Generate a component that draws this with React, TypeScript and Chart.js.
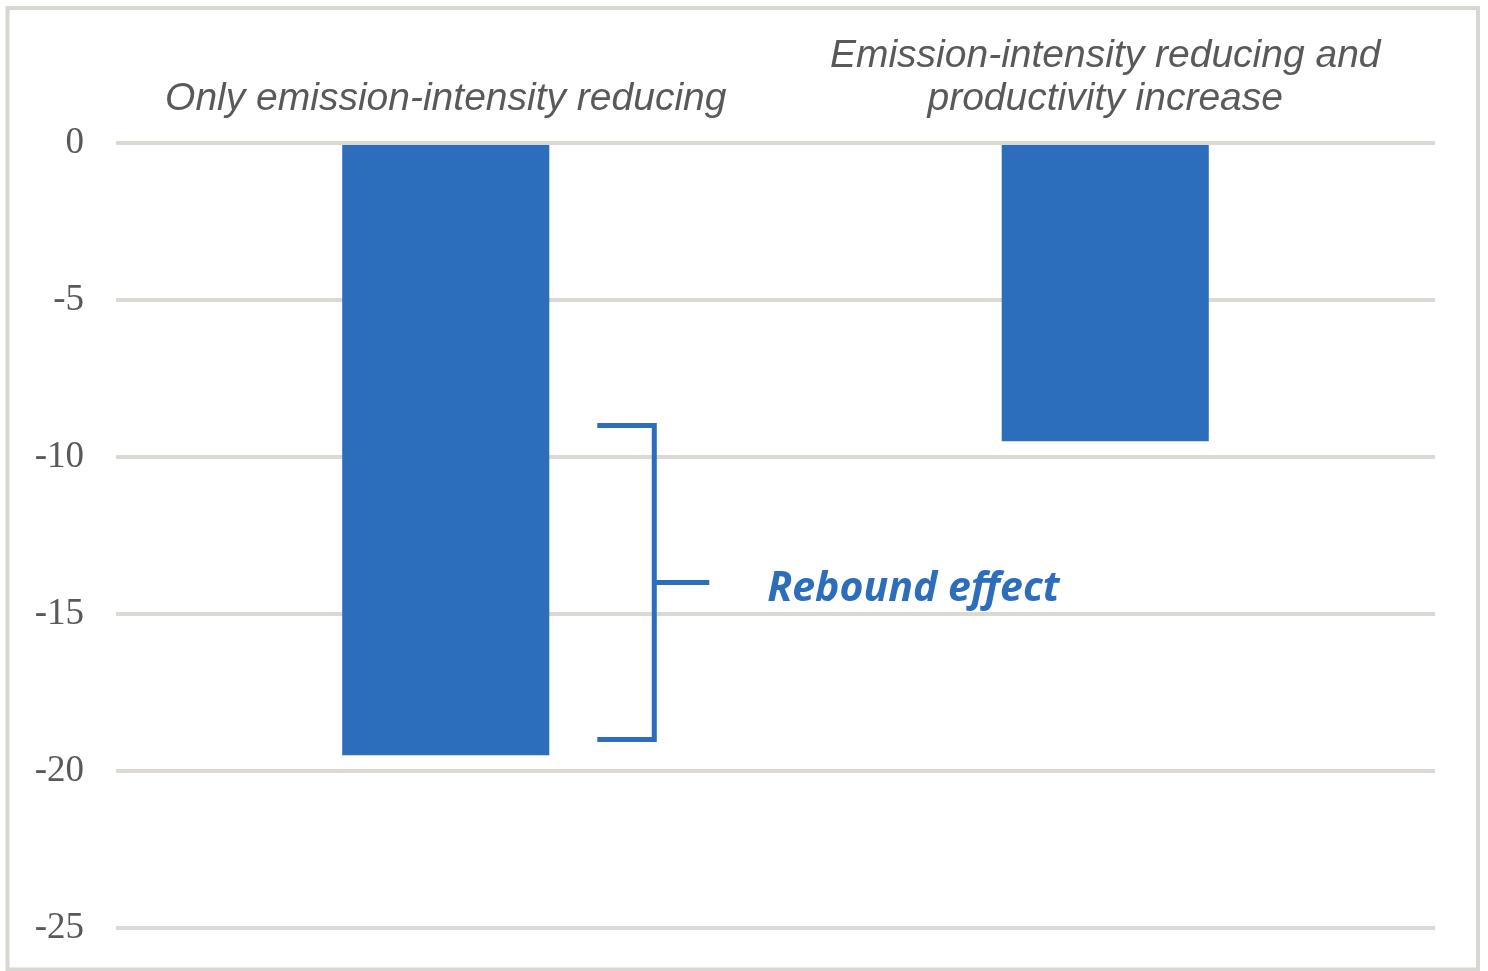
import React, { useEffect, useRef } from "react";
import { Chart, registerables } from "chart.js";

Chart.register(...registerables);

const categories: string[][] = [
  ["Only emission-intensity reducing"],
  ["Emission-intensity reducing and", "productivity increase"],
];
const values: number[] = [-19.5, -9.5];
const yMin = -25;
const yMax = 0;
const yStep = 5;
const bracketRange: number[] = [-9, -19];
const bracketMid = -14;
const annotationText = "Rebound effect";

const BLUE = "#2c6ebc";
const GRID = "#dcd9d5";
const TEXT = "#595959";

export default function App() {
  const ref = useRef<HTMLCanvasElement>(null);

  useEffect(() => {
    document.body.style.margin = "0";
    const canvas = ref.current!;

    const annotation = {
      id: "rebound",
      afterDatasetsDraw(chart: any) {
        const ctx = chart.ctx;
        const y = chart.scales.y;
        const bar = chart.getDatasetMeta(0).data[0] as any;
        const right = bar.x + bar.width / 2;
        const x0 = right + 48;
        const xv = right + 105;
        const xm = right + 160;
        const yt = y.getPixelForValue(bracketRange[0]);
        const yb = y.getPixelForValue(bracketRange[1]);
        const ymid = y.getPixelForValue(bracketMid);
        ctx.save();
        ctx.strokeStyle = BLUE;
        ctx.lineWidth = 5;
        ctx.lineCap = "butt";
        ctx.lineJoin = "miter";
        ctx.beginPath();
        ctx.moveTo(x0, yt);
        ctx.lineTo(xv, yt);
        ctx.lineTo(xv, yb);
        ctx.lineTo(x0, yb);
        ctx.stroke();
        ctx.beginPath();
        ctx.moveTo(xv, ymid);
        ctx.lineTo(xm, ymid);
        ctx.stroke();
        ctx.font = "italic bold 41px 'Open Sans'";
        ctx.fillStyle = BLUE;
        ctx.textBaseline = "alphabetic";
        ctx.textAlign = "left";
        ctx.fillText(annotationText, right + 218, ymid + 18);
        ctx.restore();
      },
    };

    const frame = {
      id: "frame",
      afterDraw(chart: any) {
        const ctx = chart.ctx;
        ctx.save();
        ctx.strokeStyle = "#dad7d3";
        ctx.lineWidth = 4;
        ctx.strokeRect(7.5, 8, 1470.5, 961.5);
        ctx.restore();
      },
    };

    const chart = new Chart(canvas, {
      type: "bar",
      data: {
        labels: categories,
        datasets: [
          {
            data: values,
            backgroundColor: BLUE,
            borderWidth: 0,
            barPercentage: 0.314,
            categoryPercentage: 1,
          },
        ],
      },
      options: {
        animation: false,
        responsive: false,
        layout: { padding: { left: 0, right: 53, top: 0, bottom: 43 } },
        plugins: {
          legend: { display: false },
          tooltip: { enabled: false },
        },
        scales: {
          x: {
            position: "top",
            grid: { display: false, drawTicks: false },
            border: { display: false },
            ticks: {
              color: TEXT,
              padding: 22,
              maxRotation: 0,
              autoSkip: false,
              font: { family: "'Liberation Sans', Arial, sans-serif", style: "italic", size: 39, lineHeight: 1.1 },
            },
            afterFit: (s: any) => {
              s.height = 143;
              s.paddingLeft = 0;
              s.paddingRight = 0;
            },
          },
          y: {
            min: yMin,
            max: yMax,
            grid: { color: GRID, lineWidth: 4, drawTicks: false },
            border: { display: false },
            ticks: {
              stepSize: yStep,
              color: TEXT,
              padding: 32,
              font: { family: "'Liberation Serif', 'Times New Roman', serif", size: 37 },
            },
            afterFit: (s: any) => {
              s.width = 116;
              s.paddingTop = 0;
              s.paddingBottom = 0;
            },
          },
        },
      },
      plugins: [annotation, frame],
    });

    return () => chart.destroy();
  }, []);

  return (
    <div style={{ width: 1488, height: 971, background: "#fff" }}>
      <canvas ref={ref} width={1488} height={971} style={{ display: "block" }} />
    </div>
  );
}
